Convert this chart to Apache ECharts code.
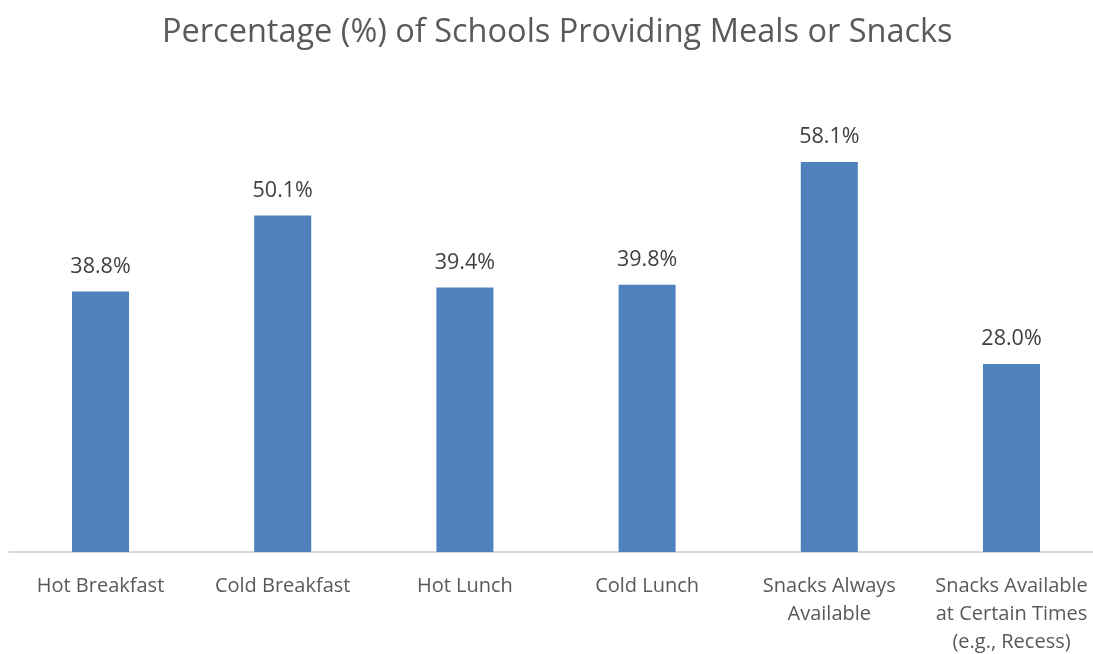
<!DOCTYPE html>
<html><head><meta charset="utf-8">
<script src="https://cdn.jsdelivr.net/npm/echarts@6/dist/echarts.min.js"></script>
<style>html,body{margin:0;padding:0;background:#fff}#c{width:1093px;height:654px}</style>
</head><body><div id="c"></div>
<script>
const categories = ["Hot Breakfast","Cold Breakfast","Hot Lunch","Cold Lunch","Snacks Always\nAvailable","Snacks Available\nat Certain Times\n(e.g., Recess)"];
const values = [38.8, 50.1, 39.4, 39.8, 58.1, 28.0];
const chartTitle = "Percentage (%) of Schools Providing Meals or Snacks";

const chart = echarts.init(document.getElementById('c'));
chart.setOption({
  backgroundColor: '#fff',
  animation: false,
  title: {
    text: chartTitle, left: 157, top: 11,
    textStyle: {fontFamily: 'Open Sans', fontSize: 32.5, fontWeight: 'normal', color: '#595959'}
  },
  grid: {left: 9.4, width: 1093.2, top: 82, bottom: 102, containLabel: false, outerBoundsMode: 'none'},
  xAxis: {
    type: 'category', data: categories,
    axisLine: {lineStyle: {color: '#d9d9d9', width: 2}},
    axisTick: {show: false},
    axisLabel: {interval: 0, fontFamily: 'Open Sans', fontSize: 20, color: '#595959', lineHeight: 28, margin: 20}
  },
  yAxis: {
    type: 'value', min: 0, max: 70, show: false, splitLine: {show: false}
  },
  series: [{
    type: 'bar', data: values, barWidth: '31.3%',
    itemStyle: {color: '#4f81bd'},
    label: {show: true, position: 'top', distance: 14, formatter: p => p.value.toFixed(1) + '%',
      fontFamily: 'Open Sans', fontSize: 21.5, color: '#404040'}
  }]
});
</script></body></html>
